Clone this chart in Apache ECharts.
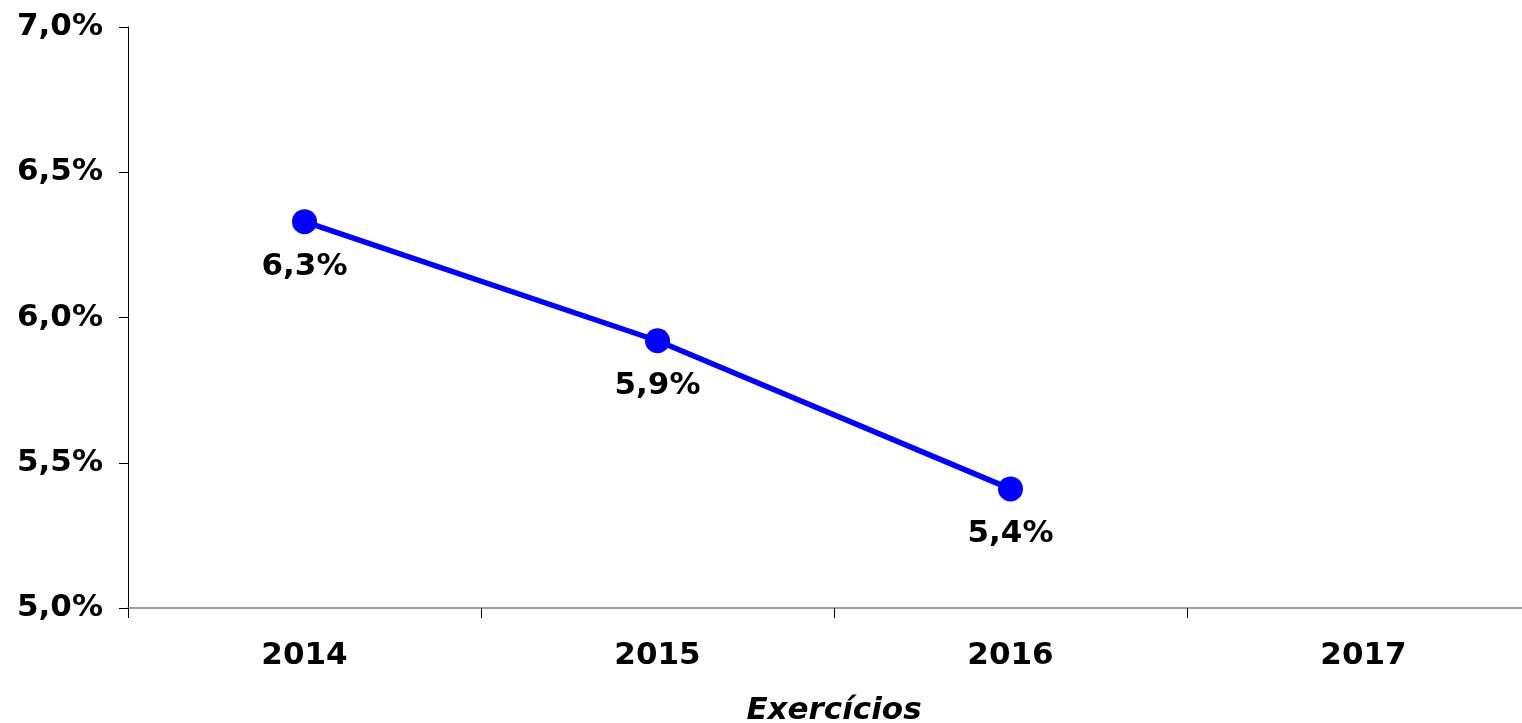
<!DOCTYPE html>
<html>
<head>
<meta charset="utf-8">
<script src="https://cdn.jsdelivr.net/npm/echarts@6/dist/echarts.min.js"></script>
<style>
  html, body { margin: 0; padding: 0; background: #fff; }
  #chart { width: 1522px; height: 723px; }
</style>
</head>
<body>
<div id="chart"></div>
<script>
// categorias e valores (%)
var exercicios = ["2014", "2015", "2016", "2017"];
var valores = [6.33, 5.92, 5.41, null];
var yMin = 5.0, yMax = 7.0, yStep = 0.5;

function fmt(v) {
  return v.toFixed(1).replace(".", ",") + "%";
}

var chart = echarts.init(document.getElementById("chart"));
chart.setOption({
  animation: false,
  textStyle: { fontFamily: "DejaVu Sans" },
  grid: { left: 128, right: -18, top: 27, bottom: 115, containLabel: false, outerBoundsMode: "none" },
  xAxis: {
    type: "category",
    data: exercicios,
    boundaryGap: true,
    name: "Exercícios",
    nameLocation: "middle",
    nameGap: 87,
    nameTextStyle: { fontSize: 31, fontWeight: "bold", fontStyle: "italic", color: "#000" },
    axisLine: { lineStyle: { color: "#808080", width: 1.5 } },
    axisTick: { show: true, length: 10, lineStyle: { color: "#000" } },
    axisLabel: { margin: 32, fontSize: 31, fontWeight: "bold", color: "#000" },
    splitLine: { show: false }
  },
  yAxis: {
    type: "value",
    min: yMin,
    max: yMax,
    interval: yStep,
    axisLine: { show: true, lineStyle: { color: "#000", width: 1 } },
    axisTick: { show: true, length: 9, lineStyle: { color: "#000" } },
    axisLabel: { margin: 25, fontSize: 31, fontWeight: "bold", color: "#000", formatter: fmt },
    splitLine: { show: false }
  },
  series: [{
    type: "line",
    data: valores,
    symbol: "circle",
    symbolSize: 25,
    itemStyle: { color: "#0000ff" },
    lineStyle: { color: "#0000ff", width: 5.5 },
    label: {
      show: true,
      position: "bottom",
      distance: 17,
      fontSize: 31,
      fontWeight: "bold",
      color: "#000",
      formatter: function (p) { return fmt(p.value); }
    }
  }]
});
</script>
</body>
</html>
